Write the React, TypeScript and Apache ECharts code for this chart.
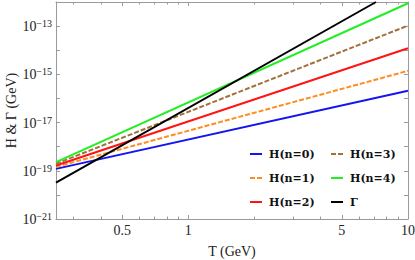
import React, { useEffect, useRef } from "react";
import * as echarts from "echarts";

// Temperature endpoints (GeV)
const tValues = [0.25, 10];
const tGamma = [0.25, 7.15];
// Hubble rates (GeV) at the endpoints
const hN0 = [1.2e-19, 2.1e-16];
const hN1 = [1.45e-19, 1.4e-15];
const hN2 = [1.66e-19, 1.2e-14];
const hN3 = [1.95e-19, 1.05e-13];
const hN4 = [2.3e-19, 8.9e-13];
const gamma = [3.2e-20, 1.0e-12];

const seriesNames = ["H(n=0)", "H(n=1)", "H(n=2)", "H(n=3)", "H(n=4)", "Γ"];
const seriesColors = ["#1414f0", "#ff8c1e", "#ff1414", "#a2703c", "#22ee22", "#000000"];
const seriesDashed = [false, true, false, true, false, false];
const xMajor = [0.5, 1, 5, 10];
const xMinor = [0.3, 0.4, 0.6, 0.7, 0.8, 0.9, 2, 3, 4, 6, 7, 8, 9];
const yTicks = [1e-21, 1e-20, 1e-19, 1e-18, 1e-17, 1e-16, 1e-15, 1e-14, 1e-13, 1e-12];
const yLabels = [1e-21, 1e-19, 1e-17, 1e-15, 1e-13];

const FONT = "Liberation Serif";
const AXIS_COLOR = "#9a9a9a";
const SOLID_ICON = "path://M0,0H12V2H0Z";
const DASH_ICON = "path://M0,0H5V2H0Z M7,0H12V2H7Z";

export default function App() {
  const ref = useRef<HTMLDivElement>(null);
  useEffect(() => {
    if (!ref.current) return;
    const chart = echarts.init(ref.current, null, { renderer: "svg" });
    const zip = (xs: number[], ys: number[]) => xs.map((x, i) => [x, ys[i]]);
    const mk = (i: number, data: number[][]) => ({
      name: seriesNames[i],
      type: "line",
      data,
      showSymbol: false,
      symbol: "none",
      xAxisIndex: 0,
      yAxisIndex: 0,
      clip: true,
      lineStyle: { color: seriesColors[i], width: 2, type: seriesDashed[i] ? [5, 2] : "solid" },
      itemStyle: { color: seriesColors[i] },
    });
    const legendData = (idx: number[]) =>
      idx.map((i) => ({ name: seriesNames[i], icon: seriesDashed[i] ? DASH_ICON : SOLID_ICON }));
    const legendBase = {
      orient: "vertical",
      top: 147,
      padding: 0,
      itemWidth: 12,
      itemHeight: 2.5,
      itemGap: 10,
      textStyle: {
        fontFamily: "DejaVu Serif",
        fontWeight: "bold",
        fontSize: 11,
        lineHeight: 14,
        color: "#111",
        padding: [0, 0, 0, 2],
      },
    };
    const axisLine = { show: true, lineStyle: { color: AXIS_COLOR, width: 1 } };
    const xBase = { type: "log", min: 0.25, max: 10, logBase: 10, gridIndex: 0, splitLine: { show: false } };
    const yBase = { type: "log", min: 1e-21, max: 1e-12, logBase: 10, gridIndex: 0, splitLine: { show: false } };
    const fmtX = (v: number) => (Math.abs(v - Math.round(v)) < 1e-9 ? String(Math.round(v)) : String(v));
    const fmtY = (v: number) => {
      const e = Math.round(Math.log10(v));
      return `{a|10}{b|${e < 0 ? "\u2212" + Math.abs(e) : e}}`;
    };
    chart.setOption({
      animation: false,
      grid: { left: 56, top: 2, right: 7, bottom: 41, containLabel: false, outerBoundsMode: "none" },
      legend: [
        { ...legendBase, data: legendData([0, 1, 2]), left: 250 },
        { ...legendBase, data: legendData([3, 4, 5]), left: 331 },
      ],
      xAxis: [
        {
          ...xBase,
          position: "bottom",
          axisLine,
          axisTick: { show: true, inside: true, length: 4, customValues: xMajor, lineStyle: { color: AXIS_COLOR } },
          axisLabel: { show: true, customValues: xMajor, formatter: fmtX, margin: 4, fontFamily: FONT, fontSize: 14, color: "#222" },
          name: "T (GeV)",
          nameLocation: "middle",
          nameGap: 25,
          nameMoveOverlap: false,
          nameTextStyle: { fontFamily: FONT, fontSize: 14, color: "#222" },
        },
        {
          ...xBase,
          position: "bottom",
          axisLine: { show: false },
          axisTick: { show: true, inside: true, length: 2.5, customValues: xMinor, lineStyle: { color: AXIS_COLOR } },
          axisLabel: { show: false },
        },
        {
          ...xBase,
          position: "top",
          axisLine,
          axisTick: { show: true, inside: true, length: 4, customValues: xMajor, lineStyle: { color: AXIS_COLOR } },
          axisLabel: { show: false },
        },
        {
          ...xBase,
          position: "top",
          axisLine: { show: false },
          axisTick: { show: true, inside: true, length: 2.5, customValues: xMinor, lineStyle: { color: AXIS_COLOR } },
          axisLabel: { show: false },
        },
      ],
      yAxis: [
        {
          ...yBase,
          position: "left",
          axisLine,
          axisTick: { show: true, inside: true, length: 4, customValues: yTicks, lineStyle: { color: AXIS_COLOR } },
          axisLabel: {
            show: true,
            customValues: yLabels,
            formatter: fmtY,
            margin: 4,
            color: "#222",
            rich: {
              a: { fontFamily: FONT, fontSize: 14, color: "#222", verticalAlign: "bottom", lineHeight: 15 },
              b: { fontFamily: FONT, fontSize: 10, color: "#222", verticalAlign: "top", lineHeight: 15, padding: [0, 0, 7, 0] },
            },
          },
          name: "H & Γ (GeV)",
          nameLocation: "middle",
          nameGap: 38,
          nameMoveOverlap: false,
          nameTextStyle: { fontFamily: FONT, fontSize: 14, color: "#222" },
        },
        {
          ...yBase,
          position: "right",
          axisLine,
          axisTick: { show: true, inside: true, length: 4, customValues: yTicks, lineStyle: { color: AXIS_COLOR } },
          axisLabel: { show: false },
        },
      ],
      series: [
        mk(0, zip(tValues, hN0)),
        mk(1, zip(tValues, hN1)),
        mk(2, zip(tValues, hN2)),
        mk(3, zip(tValues, hN3)),
        mk(4, zip(tValues, hN4)),
        mk(5, zip(tGamma, gamma)),
      ],
    });
    return () => chart.dispose();
  }, []);
  return <div ref={ref} style={{ width: 415, height: 260, position: "absolute", left: 0, top: 0 }} />;
}
